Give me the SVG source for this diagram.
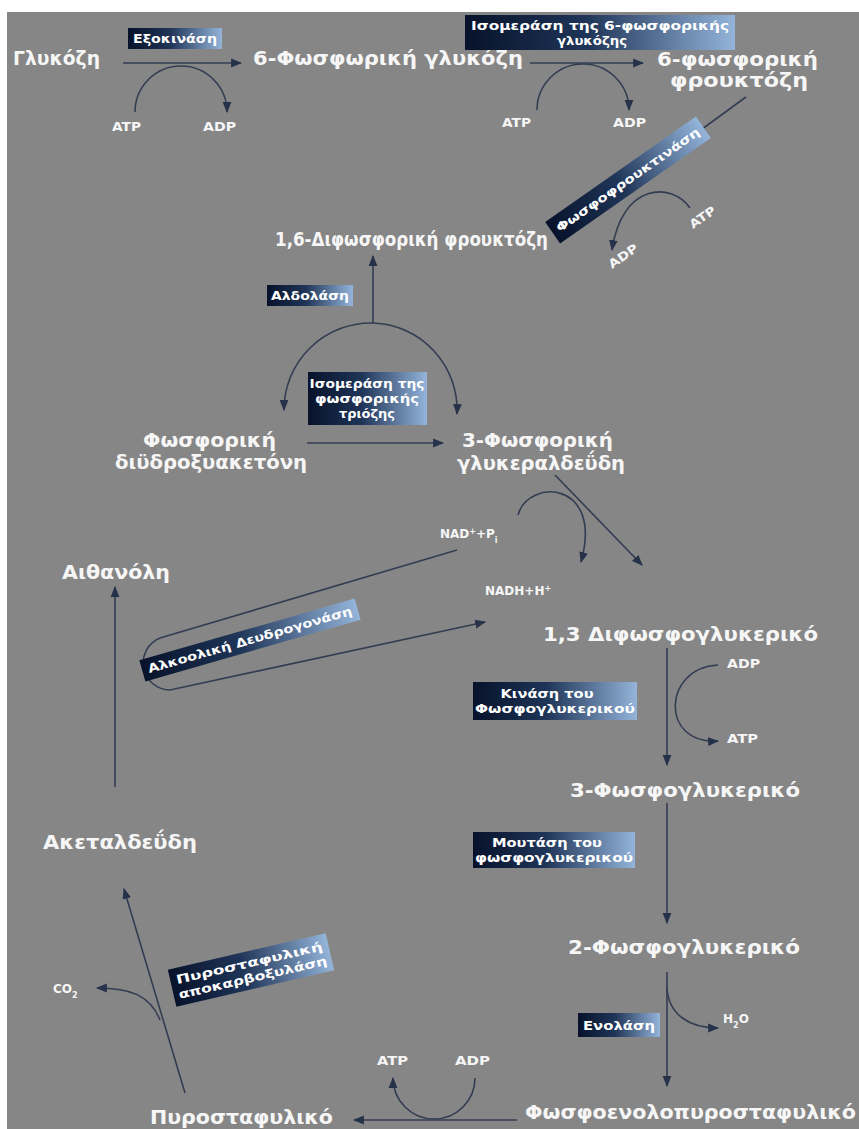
<svg xmlns="http://www.w3.org/2000/svg" width="859" height="1129" viewBox="0 0 859 1129">
<defs>
<style>
.lbl{font-family:"DejaVu Sans","Noto Sans",sans-serif;font-weight:bold;font-size:19px;fill:#f6f6f6}
.sm{font-family:"DejaVu Sans","Noto Sans",sans-serif;font-weight:bold;font-size:12px;fill:#f6f6f6}
.enz{font-family:"DejaVu Sans","Noto Sans",sans-serif;font-weight:bold;font-size:12px;fill:#ffffff}
.box{fill:url(#g)}
.conn{fill:none;stroke:#333d52;stroke-width:1.6}
.arr{marker-end:url(#ah)}
</style>
<linearGradient id="g" x1="0" y1="0" x2="1" y2="0">
<stop offset="0" stop-color="#07122a"/>
<stop offset="0.45" stop-color="#1f3558"/>
<stop offset="1" stop-color="#94b4da"/>
</linearGradient>
<marker id="ah" viewBox="0 0 10 10" refX="9" refY="5" markerWidth="11" markerHeight="11" markerUnits="userSpaceOnUse" orient="auto">
<path d="M0,1 L10,5 L0,9 z" fill="#26314a"/>
</marker>
</defs>
<rect x="0" y="0" width="859" height="1129" fill="#ffffff"/>
<rect x="7" y="12" width="852" height="1117" fill="#868686"/>

<g id="connectors">
<line class="conn arr" x1="123" y1="63" x2="241" y2="63"/>
<path class="conn arr" d="M135 112 A46 46 0 0 1 227 112"/>
<line class="conn arr" x1="530" y1="63" x2="643" y2="63"/>
<path class="conn arr" d="M537 110 A46 46 0 0 1 629 110"/>
<line class="conn arr" x1="746" y1="97" x2="558" y2="234"/>
<path class="conn arr" d="M690 208 C672 182 622 182 612 250"/>
<line class="conn arr" x1="373" y1="323" x2="373" y2="256"/>
<path class="conn arr" d="M373 323 A87 87 0 0 0 284 410"/>
<path class="conn arr" d="M373 323 A87 87 0 0 1 457 414"/>
<line class="conn arr" x1="307" y1="443" x2="443" y2="443"/>
<line class="conn arr" x1="555" y1="475" x2="642" y2="565"/>
<path class="conn arr" d="M518 515 C528 478 604 480 581 562"/>
<path class="conn arr" d="M457 550 L160 638 A27 27 0 0 0 170 690 L485 622"/>
<line class="conn arr" x1="115" y1="787" x2="115" y2="587"/>
<line class="conn arr" x1="667" y1="648" x2="667" y2="765"/>
<path class="conn arr" d="M718 665 C662 668 660 745 718 741"/>
<line class="conn arr" x1="667" y1="803" x2="667" y2="923"/>
<line class="conn arr" x1="667" y1="972" x2="667" y2="1086"/>
<path class="conn arr" d="M667 987 C668 1015 690 1028 718 1028"/>
<line class="conn arr" x1="517" y1="1120" x2="354" y2="1120"/>
<path class="conn arr" d="M475 1078 A41 41 0 0 1 393 1078"/>
<line class="conn arr" x1="185" y1="1093" x2="124" y2="889"/>
<path class="conn arr" d="M160 1020 C150 995 130 988 97 988"/>
</g>

<g id="n-glucose"><text class="lbl" x="13" y="65" textLength="87" lengthAdjust="spacingAndGlyphs">Γλυκόζη</text></g>
<g id="n-g6p"><text class="lbl" x="253" y="65" textLength="270" lengthAdjust="spacingAndGlyphs">6-Φωσφωρική γλυκόζη</text></g>
<g id="n-f6p">
<text class="lbl" x="657" y="66" textLength="161" lengthAdjust="spacingAndGlyphs">6-φωσφορική</text>
<text class="lbl" x="670" y="87" textLength="138" lengthAdjust="spacingAndGlyphs">φρουκτόζη</text>
</g>
<g id="n-f16bp"><text class="lbl" x="275" y="246" textLength="273" lengthAdjust="spacingAndGlyphs">1,6-Διφωσφορική φρουκτόζη</text></g>
<g id="n-dhap">
<text class="lbl" x="143" y="447" textLength="133" lengthAdjust="spacingAndGlyphs">Φωσφορική</text>
<text class="lbl" x="115" y="469" textLength="192" lengthAdjust="spacingAndGlyphs">διϋδροξυακετόνη</text>
</g>
<g id="n-g3p">
<text class="lbl" x="462" y="447" textLength="151" lengthAdjust="spacingAndGlyphs">3-Φωσφορική</text>
<text class="lbl" x="457" y="470" textLength="168" lengthAdjust="spacingAndGlyphs">γλυκεραλδεΰδη</text>
</g>
<g id="n-ethanol"><text class="lbl" x="62" y="579" textLength="108" lengthAdjust="spacingAndGlyphs">Αιθανόλη</text></g>
<g id="n-13bpg"><text class="lbl" x="543" y="641" textLength="275" lengthAdjust="spacingAndGlyphs">1,3 Διφωσφογλυκερικό</text></g>
<g id="n-3pg"><text class="lbl" x="570" y="797" textLength="230" lengthAdjust="spacingAndGlyphs">3-Φωσφογλυκερικό</text></g>
<g id="n-acetaldehyde"><text class="lbl" x="43" y="849" textLength="154" lengthAdjust="spacingAndGlyphs">Ακεταλδεΰδη</text></g>
<g id="n-2pg"><text class="lbl" x="568" y="954" textLength="232" lengthAdjust="spacingAndGlyphs">2-Φωσφογλυκερικό</text></g>
<g id="n-pep"><text class="lbl" x="525" y="1119" textLength="331" lengthAdjust="spacingAndGlyphs">Φωσφοενολοπυροσταφυλικό</text></g>
<g id="n-pyruvate"><text class="lbl" x="150" y="1124" textLength="183" lengthAdjust="spacingAndGlyphs">Πυροσταφυλικό</text></g>

<g id="cofactors">
<text class="sm" x="112" y="131" textLength="29" lengthAdjust="spacingAndGlyphs">ATP</text>
<text class="sm" x="203" y="131" textLength="33" lengthAdjust="spacingAndGlyphs">ADP</text>
<text class="sm" x="502" y="127" textLength="29" lengthAdjust="spacingAndGlyphs">ATP</text>
<text class="sm" x="613" y="127" textLength="33" lengthAdjust="spacingAndGlyphs">ADP</text>
<text class="sm" transform="translate(693 229) rotate(-35)" textLength="29" lengthAdjust="spacingAndGlyphs">ATP</text>
<text class="sm" transform="translate(612 269) rotate(-35)" textLength="33" lengthAdjust="spacingAndGlyphs">ADP</text>
<text class="sm" x="440" y="538">NAD<tspan font-size="8" baseline-shift="super">+</tspan>+P<tspan font-size="8" baseline-shift="sub">i</tspan></text>
<text class="sm" x="485" y="595">NADH+H<tspan font-size="8" baseline-shift="super">+</tspan></text>
<text class="sm" x="727" y="668" textLength="33" lengthAdjust="spacingAndGlyphs">ADP</text>
<text class="sm" x="727" y="743" textLength="31" lengthAdjust="spacingAndGlyphs">ATP</text>
<text class="sm" x="723" y="1023">H<tspan font-size="8" baseline-shift="sub">2</tspan>O</text>
<text class="sm" x="377" y="1065" textLength="31" lengthAdjust="spacingAndGlyphs">ATP</text>
<text class="sm" x="455" y="1065" textLength="35" lengthAdjust="spacingAndGlyphs">ADP</text>
<text class="sm" x="53" y="993">CO<tspan font-size="8" baseline-shift="sub">2</tspan></text>
</g>

<g id="e-hexokinase">
<rect class="box" x="128" y="28" width="94" height="21"/>
<text class="enz" x="175" y="43" text-anchor="middle" textLength="84" lengthAdjust="spacingAndGlyphs">Εξοκινάση</text>
</g>
<g id="e-pgi">
<rect class="box" x="465" y="15" width="270" height="35"/>
<text class="enz" x="600" y="30" text-anchor="middle" textLength="258" lengthAdjust="spacingAndGlyphs">Ισομεράση της 6-φωσφορικής</text>
<text class="enz" x="592" y="45" text-anchor="middle" textLength="70" lengthAdjust="spacingAndGlyphs">γλυκόζης</text>
</g>
<g id="e-pfk" transform="translate(628 180) rotate(-35)">
<rect class="box" x="-92" y="-13" width="184" height="26"/>
<text class="enz" x="0" y="4" text-anchor="middle" textLength="172" lengthAdjust="spacingAndGlyphs">Φωσφοφρουκτινάση</text>
</g>
<g id="e-aldolase">
<rect class="box" x="267" y="285" width="86" height="21"/>
<text class="enz" x="310" y="300" text-anchor="middle" textLength="78" lengthAdjust="spacingAndGlyphs">Αλδολάση</text>
</g>
<g id="e-tpi">
<rect class="box" x="308" y="372" width="119" height="53"/>
<text class="enz" x="367" y="388" text-anchor="middle" textLength="115" lengthAdjust="spacingAndGlyphs">Ισομεράση της</text>
<text class="enz" x="367" y="403" text-anchor="middle" textLength="104" lengthAdjust="spacingAndGlyphs">φωσφορικής</text>
<text class="enz" x="367" y="418" text-anchor="middle" textLength="56" lengthAdjust="spacingAndGlyphs">τριόζης</text>
</g>
<g id="e-adh" transform="translate(250 640) rotate(-16)">
<rect class="box" x="-112" y="-11" width="224" height="22"/>
<text class="enz" x="0" y="4" text-anchor="middle" textLength="212" lengthAdjust="spacingAndGlyphs">Αλκοολική Δευδρογονάση</text>
</g>
<g id="e-pgk">
<rect class="box" x="473" y="682" width="164" height="38"/>
<text class="enz" x="547" y="698" text-anchor="middle" textLength="93" lengthAdjust="spacingAndGlyphs">Κινάση του</text>
<text class="enz" x="555" y="713" text-anchor="middle" textLength="160" lengthAdjust="spacingAndGlyphs">Φωσφογλυκερικού</text>
</g>
<g id="e-pgm">
<rect class="box" x="473" y="832" width="162" height="36"/>
<text class="enz" x="547" y="847" text-anchor="middle" textLength="110" lengthAdjust="spacingAndGlyphs">Μουτάση του</text>
<text class="enz" x="554" y="862" text-anchor="middle" textLength="158" lengthAdjust="spacingAndGlyphs">φωσφογλυκερικού</text>
</g>
<g id="e-enolase">
<rect class="box" x="578" y="1013" width="82" height="24"/>
<text class="enz" x="619" y="1030" text-anchor="middle" textLength="72" lengthAdjust="spacingAndGlyphs">Ενολάση</text>
</g>
<g id="e-pdc" transform="translate(251 970) rotate(-13)">
<rect class="box" x="-81" y="-19" width="162" height="38"/>
<text class="enz" x="0" y="-3" text-anchor="middle" textLength="150" lengthAdjust="spacingAndGlyphs">Πυροσταφυλική</text>
<text class="enz" x="0" y="12" text-anchor="middle" textLength="152" lengthAdjust="spacingAndGlyphs">αποκαρβοξυλάση</text>
</g>
</svg>
